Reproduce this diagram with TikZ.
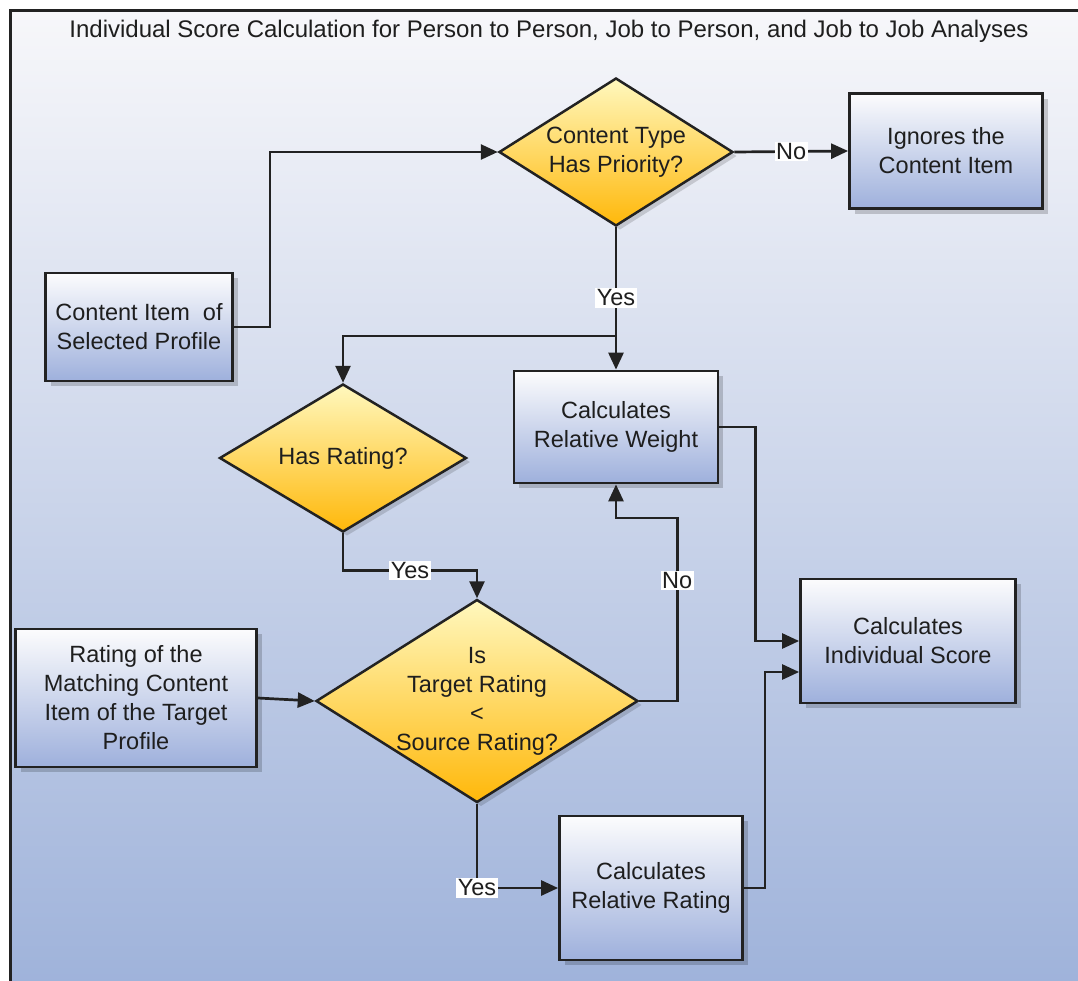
\documentclass[tikz,border=0pt]{standalone}
\usepackage{fontspec}
\setmainfont{Liberation Sans}
\usetikzlibrary{shapes.geometric,arrows.meta,shadows}

\definecolor{bgtop}{RGB}{247,247,250}
\definecolor{bgmid}{RGB}{203,214,234}
\definecolor{bgbot}{RGB}{158,178,218}
\definecolor{boxtop}{RGB}{252,252,253}
\definecolor{boxbot}{RGB}{158,176,220}
\definecolor{dtop}{RGB}{255,248,190}
\definecolor{dbot}{RGB}{255,184,10}
\definecolor{edge}{RGB}{34,34,34}
\definecolor{txt}{RGB}{30,30,30}

\begin{document}
\begin{tikzpicture}[x=1pt,y=-1pt,
  every node/.style={font=\fontsize{23.5}{29}\selectfont, text=txt},
  procbox/.style={rectangle, draw=edge, line width=2.8pt, top color=boxtop, bottom color=boxbot,
    inner sep=0pt, align=center,
    drop shadow={shadow xshift=5pt, shadow yshift=-5pt, fill=black, opacity=0.18}},
  decision/.style={diamond, draw=edge, line width=2.5pt, top color=dtop, bottom color=dbot,
    inner sep=0pt,
    drop shadow={shadow xshift=4pt, shadow yshift=-4pt, fill=black, opacity=0.15}},
  conn/.style={draw=edge, line width=2.7pt},
  arr/.style={conn, -{Triangle[length=17pt,width=15pt]}},
  lbl/.style={fill=white, inner sep=1.5pt}
]
\useasboundingbox (0,0) rectangle (1078,980);
\fill[white] (0,0) rectangle (1078,980);
\begin{scope}
  \clip (0,0) rectangle (1078,980);
  \shade[top color=bgtop, middle color=bgmid, bottom color=bgbot] (10,10) rectangle (1095,995);
  \draw[edge, line width=3pt] (10,995) -- (10,10) -- (1095,10);
\end{scope}

\node[font=\fontsize{24}{28}\selectfont] (title) at (549,31)
  {Individual Score Calculation for Person to Person, Job to Person, and Job to Job Analyses};

% process boxes
\node[procbox, minimum width=187pt, minimum height=108pt] (ci) at (139,327) {Content Item\ \ of\\Selected Profile};
\node[procbox, minimum width=193pt, minimum height=115pt] (ign) at (946,151) {Ignores the\\Content Item};
\node[procbox, minimum width=204pt, minimum height=112pt] (crw) at (616,427) {Calculates\\Relative Weight};
\node[procbox, minimum width=215pt, minimum height=124pt] (cis) at (908,641) {Calculates\\Individual Score};
\node[procbox, minimum width=241pt, minimum height=138pt] (rate) at (136,698) {Rating of the\\Matching Content\\Item of the Target\\Profile};
\node[procbox, minimum width=183pt, minimum height=144pt] (crr) at (651,888) {Calculates\\Relative Rating};

% decisions
\node[decision, minimum width=234pt, minimum height=148pt,
  label={[align=center]center:{Content Type\\Has Priority?}}] (d1) at (616,152) {};
\node[decision, minimum width=247pt, minimum height=148pt,
  label={center:{Has Rating?}}] (hr) at (343,458) {};
\node[decision, minimum width=322pt, minimum height=203pt,
  label={[align=center]center:{Is\\Target Rating\\<\\Source Rating?}}] (d3) at (477,701) {};

% connectors
\coordinate (j1) at (616,336);
\draw[arr] (ci.east) -- ++(36,0) |- (d1.west);
\draw[arr] (d1.east) -- node[lbl]{No} (ign.west);
\draw[conn] (d1.south) -- node[lbl,pos=0.65]{Yes} (j1);
\draw[arr] (j1) -| (hr.north);
\draw[arr] (j1) -- (crw.north);
\draw[arr] (hr.south) -- ++(0,37) -| node[lbl,pos=0.25]{Yes} (d3.north);
\draw[arr] (rate.east) -- (d3.west);
\draw[arr] (d3.east) -- ++(38,0) -- node[lbl,pos=0.66]{No} ++(0,-183) -| (crw.south);
\draw[arr] (crw.east) -- ++(36,0) |- (cis.west);
\draw[arr] (crr.east) -- ++(21,0) |- ([yshift=-31pt]cis.west);
\draw[arr] (d3.south) |- node[lbl,pos=0.5]{Yes} (crr.west);
\end{tikzpicture}
\end{document}
